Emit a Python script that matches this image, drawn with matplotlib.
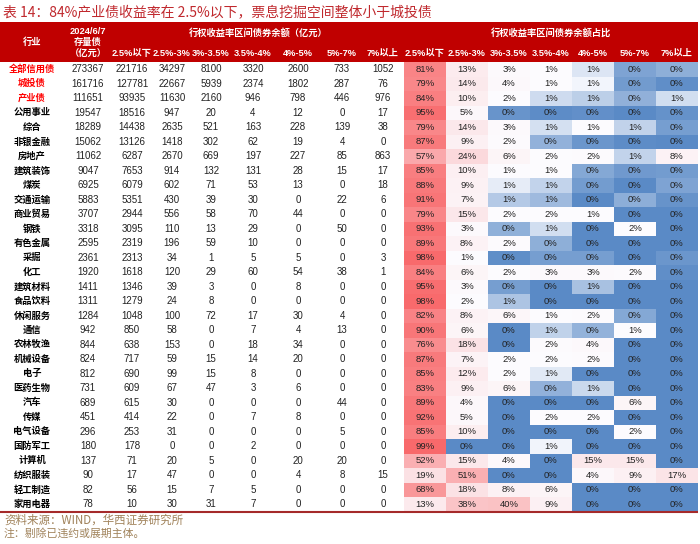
import numpy as np
import matplotlib
matplotlib.use("Agg")
import matplotlib.pyplot as plt
from matplotlib.colors import LinearSegmentedColormap, TwoSlopeNorm
from matplotlib.patches import Rectangle

plt.rcParams['font.family'] = ['Liberation Sans', 'Noto Sans CJK SC', 'DejaVu Sans']

industries = ["全部信用债", "城投债", "产业债", "公用事业", "综合", "非银金融", "房地产", "建筑装饰",
              "煤炭", "交通运输", "商业贸易", "钢铁", "有色金属", "采掘", "化工", "建筑材料",
              "食品饮料", "休闲服务", "通信", "农林牧渔", "机械设备", "电子", "医药生物", "汽车",
              "传媒", "电气设备", "国防军工", "计算机", "纺织服装", "轻工制造", "家用电器"]
totals = [273367, 161716, 111651, 19547, 18289, 15062, 11062, 9047, 6925, 5883, 3707, 3318,
          2595, 2361, 1920, 1411, 1311, 1284, 942, 844, 824, 812, 731, 689, 451, 296, 180,
          137, 90, 82, 78]
buckets = ["2.5%以下", "2.5%-3%", "3%-3.5%", "3.5%-4%", "4%-5%", "5%-7%", "7%以上"]
amounts = [
    [221716, 34297, 8100, 3320, 2600, 733, 1052],
    [127781, 22667, 5939, 2374, 1802, 287, 76],
    [93935, 11630, 2160, 946, 798, 446, 976],
    [18516, 947, 20, 4, 12, 0, 17],
    [14438, 2635, 521, 163, 228, 139, 38],
    [13126, 1418, 302, 62, 19, 4, 0],
    [6287, 2670, 669, 197, 227, 85, 863],
    [7653, 914, 132, 131, 28, 15, 17],
    [6079, 602, 71, 53, 13, 0, 18],
    [5351, 430, 39, 30, 0, 22, 6],
    [2944, 556, 58, 70, 44, 0, 0],
    [3095, 110, 13, 29, 0, 50, 0],
    [2319, 196, 59, 10, 0, 0, 0],
    [2313, 34, 1, 5, 5, 0, 3],
    [1618, 120, 29, 60, 54, 38, 1],
    [1346, 39, 3, 0, 8, 0, 0],
    [1279, 24, 8, 0, 0, 0, 0],
    [1048, 100, 72, 17, 30, 4, 0],
    [850, 58, 0, 7, 4, 13, 0],
    [638, 153, 0, 18, 34, 0, 0],
    [717, 59, 15, 14, 20, 0, 0],
    [690, 99, 15, 8, 0, 0, 0],
    [609, 67, 47, 3, 6, 0, 0],
    [615, 30, 0, 0, 0, 44, 0],
    [414, 22, 0, 7, 8, 0, 0],
    [253, 31, 0, 0, 0, 5, 0],
    [178, 0, 0, 2, 0, 0, 0],
    [71, 20, 5, 0, 20, 20, 0],
    [17, 47, 0, 0, 4, 8, 15],
    [56, 15, 7, 5, 0, 0, 0],
    [10, 30, 31, 7, 0, 0, 0],
]
shares_pct = [
    [81, 13, 3, 1, 1, 0, 0],
    [79, 14, 4, 1, 1, 0, 0],
    [84, 10, 2, 1, 1, 0, 1],
    [95, 5, 0, 0, 0, 0, 0],
    [79, 14, 3, 1, 1, 1, 0],
    [87, 9, 2, 0, 0, 0, 0],
    [57, 24, 6, 2, 2, 1, 8],
    [85, 10, 1, 1, 0, 0, 0],
    [88, 9, 1, 1, 0, 0, 0],
    [91, 7, 1, 1, 0, 0, 0],
    [79, 15, 2, 2, 1, 0, 0],
    [93, 3, 0, 1, 0, 2, 0],
    [89, 8, 2, 0, 0, 0, 0],
    [98, 1, 0, 0, 0, 0, 0],
    [84, 6, 2, 3, 3, 2, 0],
    [95, 3, 0, 0, 1, 0, 0],
    [98, 2, 1, 0, 0, 0, 0],
    [82, 8, 6, 1, 2, 0, 0],
    [90, 6, 0, 1, 0, 1, 0],
    [76, 18, 0, 2, 4, 0, 0],
    [87, 7, 2, 2, 2, 0, 0],
    [85, 12, 2, 1, 0, 0, 0],
    [83, 9, 6, 0, 1, 0, 0],
    [89, 4, 0, 0, 0, 6, 0],
    [92, 5, 0, 2, 2, 0, 0],
    [85, 10, 0, 0, 0, 2, 0],
    [99, 0, 0, 1, 0, 0, 0],
    [52, 15, 4, 0, 15, 15, 0],
    [19, 51, 0, 0, 4, 9, 17],
    [68, 18, 8, 6, 0, 0, 0],
    [13, 38, 40, 9, 0, 0, 0],
]

TITLE = "表 14：84%产业债收益率在 2.5%以下，票息挖掘空间整体小于城投债"
SOURCE = "资料来源：WIND，华西证券研究所"
NOTE = "注：剔除已违约或展期主体。"

# layout (pixel coords)
HEAD_RED = "#C00000"
ROW_TOP, ROW_H = 62, 14.5
LABEL_X, TOTAL_X = 32, 88
AMT_X = [132, 172, 211, 253, 298, 342, 383]
HEAT_LEFT, HEAT_W = 404, 42
NUM_FS, HEAD_FS = 7.0, 6.7


def draw_header(ax):
    ax.add_patch(Rectangle((0, 22), 698, ROW_TOP - 22, color=HEAD_RED, lw=0))
    kw = dict(color="white", fontweight="bold", fontsize=HEAD_FS, ha="center", va="center")
    ax.text(LABEL_X, 42, "行业", **kw)
    ax.text(TOTAL_X, 31, "2024/6/7", **kw)
    ax.text(TOTAL_X, 42, "存量债", **kw)
    ax.text(TOTAL_X, 54, "（亿元）", **kw)
    ax.text(258, 33, "行权收益率区间债券余额（亿元）", **kw)
    ax.text(HEAT_LEFT + 3.5 * HEAT_W, 33, "行权收益率区间债券余额占比", **kw)
    for j, b in enumerate(buckets):
        ax.text(AMT_X[j], 53, b, **kw)
        ax.text(HEAT_LEFT + (j + 0.5) * HEAT_W, 53, b, **kw)


def main():
    fig = plt.figure(figsize=(7, 5.44), dpi=100)
    ax = fig.add_axes([0, 0, 1, 1])
    ax.set_xlim(0, 700)
    ax.set_ylim(544, 0)
    ax.axis("off")

    ax.text(3, 12, TITLE, color="#C0282D", fontsize=10, ha="left", va="center",
            family=["Noto Sans CJK SC", "DejaVu Sans"])
    draw_header(ax)

    n = len(industries)
    amt = np.array(amounts, dtype=float)
    tot = np.array(totals, dtype=float)
    ratio = amt / tot[:, None]

    # excel style 3-colour scale: min / 50th percentile / max
    cmap = LinearSegmentedColormap.from_list("xl", ["#5A8AC6", "#FCFCFF", "#F8696B"])
    norm = TwoSlopeNorm(vmin=ratio.min(), vcenter=np.percentile(ratio, 50), vmax=ratio.max())
    xedges = HEAT_LEFT + HEAT_W * np.arange(len(buckets) + 1)
    yedges = ROW_TOP + ROW_H * np.arange(n + 1)
    ax.pcolormesh(xedges, yedges, ratio, cmap=cmap, norm=norm, shading="flat")

    for i, name in enumerate(industries):
        y = ROW_TOP + (i + 0.5) * ROW_H
        col = "#FF0000" if i < 3 else "black"
        ax.text(LABEL_X, y, name, color=col, fontsize=6.7, fontweight="bold",
                ha="center", va="center", family=["Noto Sans CJK SC"])
        ax.text(TOTAL_X, y, f"{totals[i]}", fontsize=NUM_FS, ha="center", va="center", color="#222222")
        for j in range(len(buckets)):
            ax.text(AMT_X[j], y, f"{amounts[i][j]}", fontsize=NUM_FS, ha="center", va="center",
                    color="#222222")
            ax.text(HEAT_LEFT + (j + 0.5) * HEAT_W, y, f"{shares_pct[i][j]}%", fontsize=6.8,
                    ha="center", va="center", color="#222222")

    bottom = ROW_TOP + n * ROW_H
    ax.plot([0, 698], [bottom, bottom], color="#A52A2A", lw=1.5, solid_capstyle="butt")

    ax.text(4, bottom + 8.5, SOURCE, color="#A0825A", fontsize=8.3, ha="left", va="center",
            family=["Noto Sans CJK SC"])
    ax.text(4, bottom + 22, NOTE, color="#A0825A", fontsize=7.8, ha="left", va="center",
            family=["Noto Sans CJK SC"])

    fig.savefig("out.png", dpi=100)
    plt.close(fig)


if __name__ == "__main__":
    main()
